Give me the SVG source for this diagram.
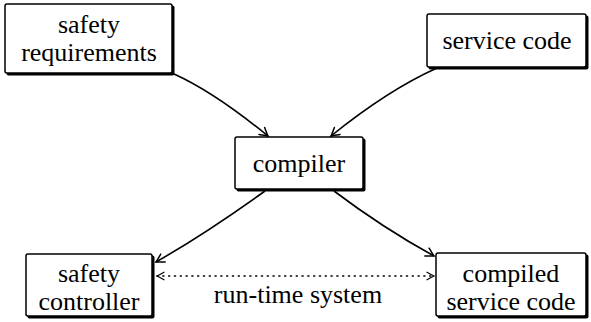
<svg xmlns="http://www.w3.org/2000/svg" width="591" height="322" viewBox="0 0 591 322">
  <style>
    .shadow { fill: #000; }
    .box { fill: #fff; stroke: #000; stroke-width: 1.5; }
    .lbl { font-family: 'Liberation Serif', 'DejaVu Serif', serif; font-size: 26px; fill: #000; text-anchor: middle; }
    .edge { fill: none; stroke: #000; stroke-width: 1.6; }
    .dotted { fill: none; stroke: #000; stroke-width: 1.4; stroke-dasharray: 1.2 4.6; stroke-linecap: round; }
  </style>
  <defs>
    <marker id="head" viewBox="-10 -6 12 12" refX="0" refY="0" markerWidth="12" markerHeight="12" markerUnits="userSpaceOnUse" orient="auto-start-reverse">
      <path d="M-8,-4.5 Q-2.5,-1.2 0,0 Q-2.5,1.2 -8,4.5" fill="none" stroke="#000" stroke-width="1.5" stroke-linecap="round"/>
    </marker>
    <marker id="headThin" viewBox="-10 -6 12 12" refX="0" refY="0" markerWidth="12" markerHeight="12" markerUnits="userSpaceOnUse" orient="auto-start-reverse">
      <path d="M-7,-3.8 Q-2.2,-1 0,0 Q-2.2,1 -7,3.8" fill="none" stroke="#000" stroke-width="1.2" stroke-linecap="round"/>
    </marker>
  </defs>

  <!-- curved flows into and out of the compiler, plus the dotted run-time link -->
  <g id="connectors">
    <path class="edge" d="M174,74 Q214,92 268,136" marker-end="url(#head)"/>
    <path class="edge" d="M437,68 Q388,90 331,136" marker-end="url(#head)"/>
    <path class="edge" d="M265,191 Q205,234 156,262" marker-end="url(#head)"/>
    <path class="edge" d="M334,191 Q383,228 434,256" marker-end="url(#head)"/>
    <path class="dotted" d="M157,276 L434,276" marker-start="url(#headThin)" marker-end="url(#headThin)"/>
    <text class="lbl" x="298" y="303">run-time system</text>
  </g>

  <g id="safety-requirements">
    <rect class="shadow" x="6.5" y="5.5" width="168" height="70" rx="2"/>
    <rect class="box" x="5" y="4" width="167" height="69" rx="2"/>
    <text class="lbl" x="89" y="33">safety</text>
    <text class="lbl" x="89" y="61">requirements</text>
  </g>

  <g id="service-code">
    <rect class="shadow" x="428.5" y="15.5" width="160" height="54" rx="2"/>
    <rect class="box" x="427" y="14" width="159" height="53" rx="2"/>
    <text class="lbl" x="507" y="49">service code</text>
  </g>

  <g id="compiler">
    <rect class="shadow" x="236.5" y="138.5" width="129" height="53" rx="2"/>
    <rect class="box" x="235" y="137" width="128" height="52" rx="2"/>
    <text class="lbl" x="299" y="172">compiler</text>
  </g>

  <g id="safety-controller">
    <rect class="shadow" x="27.5" y="255.5" width="127" height="63" rx="2"/>
    <rect class="box" x="26" y="254" width="126" height="62" rx="2"/>
    <text class="lbl" x="89" y="282">safety</text>
    <text class="lbl" x="89" y="310">controller</text>
  </g>

  <g id="compiled-service-code">
    <rect class="shadow" x="437.5" y="254.5" width="151" height="64" rx="2"/>
    <rect class="box" x="436" y="253" width="150" height="63" rx="2"/>
    <text class="lbl" x="511" y="282">compiled</text>
    <text class="lbl" x="511" y="310">service code</text>
  </g>
</svg>
